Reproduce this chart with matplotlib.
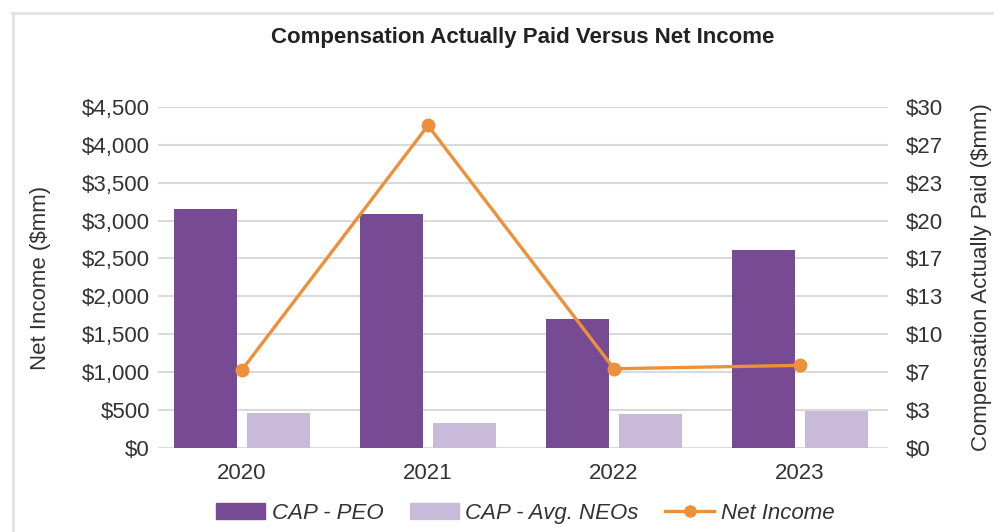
import matplotlib
matplotlib.use("Agg")
import matplotlib.pyplot as plt
import numpy as np
from matplotlib.lines import Line2D
from matplotlib.patches import Patch

plt.rcParams['font.family'] = ['Liberation Sans', 'DejaVu Sans']

years = ["2020", "2021", "2022", "2023"]
cap_peo = [21.0, 20.6, 11.35, 17.4]        # $mm (right axis)
cap_neo = [3.08, 2.2, 3.02, 3.28]           # $mm (right axis)
net_income = [1030, 4255, 1045, 1090]       # $mm (left axis)

left_ticks = [0, 500, 1000, 1500, 2000, 2500, 3000, 3500, 4000, 4500]

c_peo = "#774B93"
c_neo = "#C9BAD9"
c_line = "#EC913A"
c_grid = "#DADADA"
c_text = "#333333"

fig = plt.figure(figsize=(9.95, 5.32), dpi=100)
ax2 = fig.add_axes([0.159, 0.158, 0.733, 0.641])
ax = ax2.twinx()
ax.yaxis.set_label_position("left")
ax.yaxis.tick_left()
ax2.yaxis.set_label_position("right")
ax2.yaxis.tick_right()

x = np.arange(len(years))
w = 0.34
off = 0.195
ax2.bar(x - off, cap_peo, width=w, color=c_peo, zorder=2)
ax2.bar(x + off, cap_neo, width=w, color=c_neo, zorder=2)
ax2.set_ylim(0, 30)
rt = np.linspace(0, 30, 10)
ax2.set_yticks(rt)
ax2.set_yticklabels([f"${v:.0f}" for v in rt])
ax2.grid(axis='y', color=c_grid, linewidth=1.5, zorder=0)
ax2.set_axisbelow(True)

ax.plot(x, net_income, color=c_line, linewidth=2.4, marker='o', markersize=9, zorder=3)
ax.set_ylim(0, 4500)
ax.set_yticks(left_ticks)
ax.set_yticklabels([f"${v:,}" for v in left_ticks])
ax.set_zorder(ax2.get_zorder() + 1)
ax.patch.set_visible(False)

for a in (ax, ax2):
    for s in a.spines.values():
        s.set_visible(False)
    a.tick_params(length=0, labelsize=16, colors=c_text)
    a.set_xlim(-0.45, 3.47)

ax2.set_xticks(x)
ax2.set_xticklabels(years)
ax2.tick_params(axis='x', pad=11)
ax.tick_params(axis='y', pad=6)
ax2.tick_params(axis='y', pad=13)

ax.set_ylabel("Net Income ($mm)", fontsize=16, color=c_text, labelpad=22)
ax2.set_ylabel("Compensation Actually Paid ($mm)", fontsize=16, color=c_text,
               labelpad=20, rotation=90)

fig.text(0.525, 0.93, "Compensation Actually Paid Versus Net Income",
         ha='center', va='center', fontsize=16, fontweight='bold', color="#222222")

handles = [Patch(color=c_peo), Patch(color=c_neo),
           Line2D([0], [0], color=c_line, linewidth=2.4, marker='o', markersize=8)]
labels = ["CAP - PEO", "CAP - Avg. NEOs", "Net Income"]
leg = fig.legend(handles, labels, loc='center', bbox_to_anchor=(0.528, 0.035),
                 ncol=3, frameon=False, prop={'size': 16, 'style': 'italic'},
                 handlelength=2.2, handletextpad=0.3, columnspacing=1.2)
for t in leg.get_texts():
    t.set_color(c_text)

# card border (top and left)
fig.add_artist(Line2D([12/995, 1.0], [1 - 13/532, 1 - 13/532], transform=fig.transFigure,
                      color="#E2E2E2", linewidth=2))
fig.add_artist(Line2D([13/995, 13/995], [0, 1 - 13/532], transform=fig.transFigure,
                      color="#E2E2E2", linewidth=2))

fig.savefig("out.png", dpi=100)
